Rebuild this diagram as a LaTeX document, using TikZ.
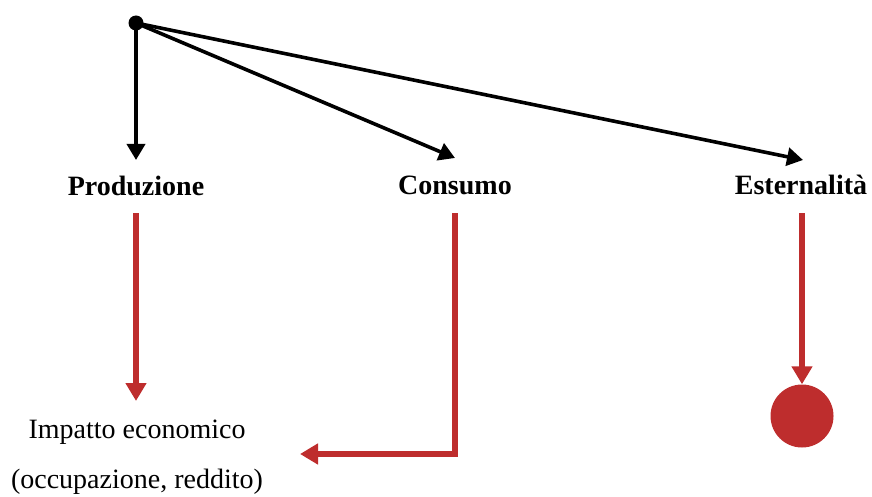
\documentclass[tikz,border=0pt]{standalone}
\usepackage{fontspec}
\setmainfont{Liberation Serif}
\usetikzlibrary{arrows.meta}
\definecolor{flowred}{RGB}{190,45,45}
\begin{document}
\begin{tikzpicture}[x=1pt,y=-1pt,
  label/.style={font=\fontsize{28}{34}\selectfont\bfseries, anchor=base, inner sep=0pt},
  plain/.style={font=\fontsize{28}{34}\selectfont, anchor=base, inner sep=0pt},
  blackarrow/.style={line width=3.6pt, -{Triangle[length=16pt,width=18pt]}},
  redarrow/.style={line width=6pt, color=flowred, -{Triangle[length=18pt,width=20pt]}}]
  \useasboundingbox (0,0) rectangle (872,497);

  % source point
  \node[circle, fill=black, inner sep=0pt, minimum size=15pt] (src) at (136,23) {};

  % category labels
  \node[label] (prod) at (136,195) {Produzione};
  \node[label] (cons) at (455,194) {Consumo};
  \node[label] (est)  at (801,194) {Esternalità};

  % arrow targets above the labels
  \coordinate (prodIn) at (136,160);
  \coordinate (consIn) at (455,158);
  \coordinate (estIn)  at (803,160);

  \draw[blackarrow] (src.center) -- (prodIn);
  \draw[blackarrow] (src.center) -- (consIn);
  \draw[blackarrow] (src.center) -- (estIn);

  % outcomes
  \node[plain] (imp)  at (137,438) {Impatto economico};
  \node[plain] (imp2) at (137,488) {(occupazione, reddito)};
  \node[circle, fill=flowred, inner sep=0pt, minimum size=63pt] (ext) at (802,416) {};

  \coordinate (prodOut) at (136,213);
  \coordinate (consOut) at (455,213);
  \coordinate (estOut)  at (802,213);
  \coordinate (impIn)   at (136,401);
  \coordinate (impSide) at (300,454);

  \draw[redarrow] (prodOut) -- (impIn);
  \draw[redarrow] (consOut) |- (impSide);
  \draw[redarrow] (estOut) -- (ext.north);
\end{tikzpicture}
\end{document}
